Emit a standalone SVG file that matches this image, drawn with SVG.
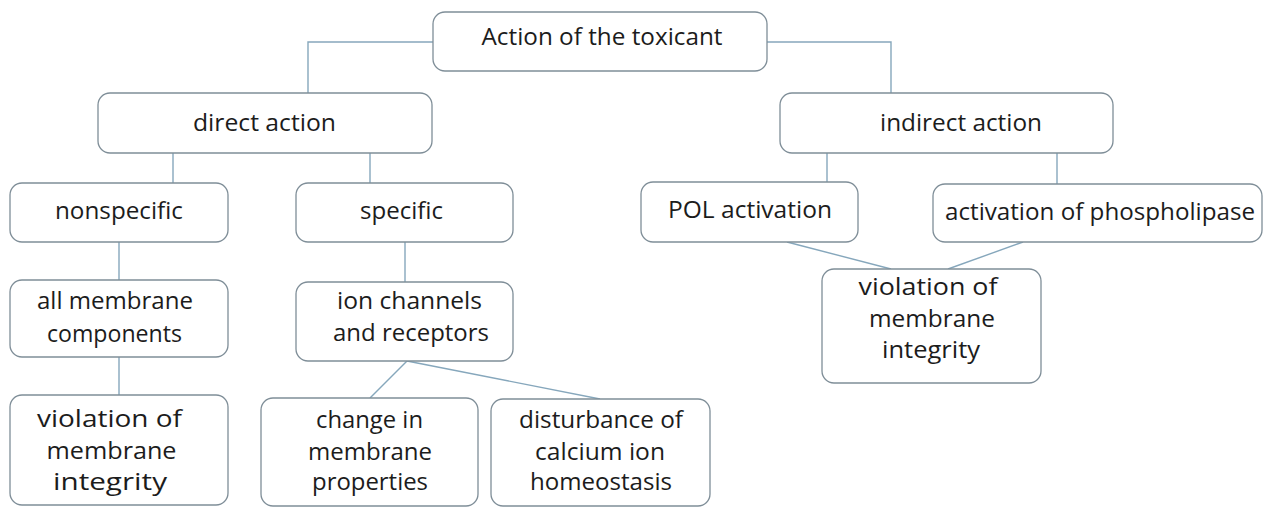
<svg xmlns="http://www.w3.org/2000/svg" width="1266" height="507" viewBox="0 0 1266 507">
<style>
.box{fill:#ffffff;stroke:#7f8e98;stroke-width:1.3}
.t{font-family:"Open Sans","Liberation Sans",sans-serif;font-size:23px;fill:#1c1c1c;text-anchor:middle}
.c{fill:none;stroke:#86a7bc;stroke-width:1.4}
</style>
<rect width="1266" height="507" fill="#ffffff"/>
<g id="connectors">
<polyline class="c" points="433,42 308,42 308,93"/>
<polyline class="c" points="767,42 891,42 891,93"/>
<line class="c" x1="173" y1="153" x2="173" y2="183"/>
<line class="c" x1="370" y1="153" x2="370" y2="183"/>
<line class="c" x1="827" y1="153" x2="827" y2="182"/>
<line class="c" x1="1057" y1="153" x2="1057" y2="184"/>
<line class="c" x1="119" y1="242" x2="119" y2="280"/>
<line class="c" x1="405" y1="242" x2="405" y2="282"/>
<line class="c" x1="119" y1="357" x2="119" y2="395"/>
<line class="c" x1="407" y1="361" x2="370" y2="398"/>
<line class="c" x1="407" y1="361" x2="600" y2="399"/>
<line class="c" x1="787" y1="242" x2="891" y2="269"/>
<line class="c" x1="1023" y1="242" x2="948" y2="269"/>
</g>
<g id="root">
<rect class="box" x="433" y="12" width="334" height="59" rx="12"/>
<text class="t" x="602" y="45" textLength="241" lengthAdjust="spacingAndGlyphs">Action of the toxicant</text>
</g>
<g id="direct">
<rect class="box" x="98" y="93" width="334" height="60" rx="12"/>
<text class="t" x="264.5" y="131" textLength="143" lengthAdjust="spacingAndGlyphs">direct action</text>
</g>
<g id="indirect">
<rect class="box" x="780" y="93" width="333" height="60" rx="12"/>
<text class="t" x="961" y="131" textLength="162" lengthAdjust="spacingAndGlyphs">indirect action</text>
</g>
<g id="nonspecific">
<rect class="box" x="10" y="183" width="218" height="59" rx="12"/>
<text class="t" x="119" y="219" textLength="128" lengthAdjust="spacingAndGlyphs">nonspecific</text>
</g>
<g id="specific">
<rect class="box" x="296" y="183" width="217" height="59" rx="12"/>
<text class="t" x="401.5" y="219" textLength="83" lengthAdjust="spacingAndGlyphs">specific</text>
</g>
<g id="pol">
<rect class="box" x="641" y="182" width="217" height="60" rx="12"/>
<text class="t" x="750" y="218" textLength="164" lengthAdjust="spacingAndGlyphs">POL activation</text>
</g>
<g id="phospholipase">
<rect class="box" x="933" y="184" width="329" height="58" rx="12"/>
<text class="t" x="1100" y="220" textLength="310" lengthAdjust="spacingAndGlyphs">activation of phospholipase</text>
</g>
<g id="allmembrane">
<rect class="box" x="10" y="280" width="218" height="77" rx="12"/>
<text class="t" x="115" y="309" textLength="156" lengthAdjust="spacingAndGlyphs">all membrane</text>
<text class="t" x="114.5" y="342" textLength="135" lengthAdjust="spacingAndGlyphs">components</text>
</g>
<g id="ionchannels">
<rect class="box" x="296" y="282" width="217" height="79" rx="12"/>
<text class="t" x="409.5" y="309" textLength="145" lengthAdjust="spacingAndGlyphs">ion channels</text>
<text class="t" x="411" y="341" textLength="156" lengthAdjust="spacingAndGlyphs">and receptors</text>
</g>
<g id="violation-left">
<rect class="box" x="10" y="395" width="218" height="110" rx="12"/>
<text class="t" x="109.5" y="427" textLength="145" lengthAdjust="spacingAndGlyphs">violation of</text>
<text class="t" x="111.5" y="459" textLength="130" lengthAdjust="spacingAndGlyphs">membrane</text>
<text class="t" x="110" y="490" textLength="114" lengthAdjust="spacingAndGlyphs">integrity</text>
</g>
<g id="change">
<rect class="box" x="261" y="398" width="217" height="108" rx="12"/>
<text class="t" x="369.5" y="428" textLength="107" lengthAdjust="spacingAndGlyphs">change in</text>
<text class="t" x="370" y="460" textLength="124" lengthAdjust="spacingAndGlyphs">membrane</text>
<text class="t" x="370" y="490" textLength="116" lengthAdjust="spacingAndGlyphs">properties</text>
</g>
<g id="disturbance">
<rect class="box" x="491" y="399" width="219" height="107" rx="12"/>
<text class="t" x="601" y="428" textLength="164" lengthAdjust="spacingAndGlyphs">disturbance of</text>
<text class="t" x="600" y="460" textLength="130" lengthAdjust="spacingAndGlyphs">calcium ion</text>
<text class="t" x="601" y="490" textLength="142" lengthAdjust="spacingAndGlyphs">homeostasis</text>
</g>
<g id="violation-right">
<rect class="box" x="822" y="269" width="219" height="114" rx="12"/>
<text class="t" x="928" y="295" textLength="139" lengthAdjust="spacingAndGlyphs">violation of</text>
<text class="t" x="932" y="327" textLength="126" lengthAdjust="spacingAndGlyphs">membrane</text>
<text class="t" x="931" y="358" textLength="98" lengthAdjust="spacingAndGlyphs">integrity</text>
</g>
</svg>
